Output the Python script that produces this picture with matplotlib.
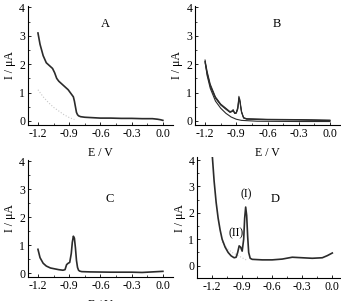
import matplotlib.pyplot as plt
from matplotlib.ticker import MultipleLocator

plt.rcParams['font.family'] = ['Liberation Serif', 'DejaVu Serif']
plt.rcParams['font.size'] = 8.5

# panel A
a_x = [-1.2, -1.18, -1.15, -1.12, -1.09, -1.06, -1.04, -1.02, -1.0, -0.97, -0.94, -0.91,
       -0.88, -0.86, -0.85, -0.84, -0.83, -0.82, -0.81, -0.79, -0.75, -0.7, -0.6, -0.5,
       -0.4, -0.3, -0.2, -0.1, -0.05, -0.02, 0.0]
a_y = [3.1, 2.7, 2.3, 2.05, 1.95, 1.85, 1.7, 1.5, 1.4, 1.3, 1.2, 1.1,
       0.95, 0.85, 0.7, 0.5, 0.3, 0.22, 0.18, 0.15, 0.13, 0.12, 0.1, 0.1,
       0.09, 0.09, 0.08, 0.08, 0.06, 0.04, 0.02]
a_bg_x = [-1.2, -1.15, -1.1, -1.05, -1.0, -0.95, -0.9, -0.85]
a_bg_y = [1.1, 0.85, 0.65, 0.48, 0.35, 0.22, 0.12, 0.05]

# panel B (several cycles)
b_up_x = [-1.2, -1.18, -1.15, -1.1, -1.05, -1.0, -0.96, -0.94, -0.93, -0.915, -0.9,
          -0.885, -0.875, -0.865, -0.85, -0.83, -0.8, -0.6, -0.3, 0.0]
b_up1 = [2.15, 1.75, 1.3, 0.85, 0.6, 0.45, 0.33, 0.36, 0.4, 0.28, 0.3,
         0.5, 0.87, 0.75, 0.35, 0.12, 0.08, 0.06, 0.05, 0.03]
b_up2 = [2.1, 1.7, 1.25, 0.82, 0.58, 0.43, 0.31, 0.34, 0.38, 0.27, 0.28,
         0.45, 0.82, 0.7, 0.32, 0.11, 0.07, 0.05, 0.04, 0.02]
b_up3 = [2.05, 1.65, 1.22, 0.8, 0.56, 0.41, 0.3, 0.33, 0.36, 0.26, 0.27,
         0.42, 0.78, 0.66, 0.3, 0.1, 0.06, 0.04, 0.03, 0.01]
b_dn_x = [-1.2, -1.18, -1.15, -1.1, -1.05, -1.0, -0.95, -0.9, -0.85, -0.7, -0.3, 0.0]
b_dn_y = [2.1, 1.6, 1.15, 0.7, 0.45, 0.27, 0.14, 0.06, 0.02, -0.01, -0.02, -0.02]

# panel C
c_x = [-1.2, -1.18, -1.15, -1.12, -1.08, -1.04, -1.0, -0.96, -0.94, -0.925, -0.91,
       -0.895, -0.88, -0.87, -0.86, -0.85, -0.84, -0.83, -0.82, -0.81, -0.8, -0.78,
       -0.7, -0.5, -0.3, -0.2, -0.1, 0.0]
c_y = [0.85, 0.55, 0.35, 0.25, 0.18, 0.15, 0.12, 0.1, 0.12, 0.3, 0.35,
       0.38, 0.7, 1.1, 1.32, 1.25, 0.9, 0.45, 0.2, 0.1, 0.07, 0.05,
       0.04, 0.03, 0.03, 0.02, 0.04, 0.06]

# panel D
d_x = [-1.2, -1.18, -1.16, -1.14, -1.12, -1.1, -1.07, -1.04, -1.01, -0.98, -0.96,
       -0.945, -0.93, -0.915, -0.9, -0.885, -0.875, -0.865, -0.855, -0.845, -0.835,
       -0.82, -0.8, -0.7, -0.6, -0.5, -0.4, -0.3, -0.2, -0.1, -0.05, 0.0]
d_y = [4.25, 3.2, 2.4, 1.8, 1.35, 1.0, 0.7, 0.5, 0.37, 0.3, 0.32,
       0.5, 0.75, 0.7, 0.55, 1.0, 1.8, 2.22, 1.9, 1.1, 0.5,
       0.28, 0.24, 0.22, 0.22, 0.25, 0.32, 0.3, 0.28, 0.3, 0.38, 0.48]
d_bg_x = [-1.1, -1.05, -1.0, -0.95, -0.9, -0.85]
d_bg_y = [0.9, 0.65, 0.5, 0.4, 0.3, 0.2]

xticks = [-1.2, -0.9, -0.6, -0.3, 0.0]
xticklabels = ['-1.2', '-0.9', '-0.6', '-0.3', '0.0']
yticks = [0, 1, 2, 3, 4]

line = '#2b2b2b'
fig = plt.figure(figsize=(3.41, 3.01), dpi=100)

def setup(ax, ylim, xlim, label, lx, ly):
    ax.set_xlim(*xlim)
    ax.set_ylim(*ylim)
    ax.spines['top'].set_visible(False)
    ax.spines['right'].set_visible(False)
    ax.set_xticks(xticks)
    ax.set_xticklabels(xticklabels)
    ax.set_yticks(yticks)
    ax.xaxis.set_minor_locator(MultipleLocator(0.15))
    ax.yaxis.set_minor_locator(MultipleLocator(0.5))
    ax.tick_params(direction='in', length=2.5, width=0.6, pad=2)
    ax.tick_params(which='minor', direction='in', length=1.5, width=0.5)
    ax.set_xlabel('E / V', labelpad=5)
    ax.set_ylabel('I / μA', labelpad=2)
    ax.text(lx, ly, label, fontsize=9)

axA = fig.add_axes([0.082, 0.585, 0.425, 0.395])
axA.plot(a_bg_x, a_bg_y, color='#c8c8c8', lw=0.8, ls=':')
axA.plot(a_x, a_y, color=line, lw=1.2)
setup(axA, (-0.14, 4.05), (-1.296, 0.096), 'A', -0.6, 3.3)

axB = fig.add_axes([0.572, 0.585, 0.425, 0.395])
for ys in (b_up1, b_up2, b_up3):
    axB.plot(b_up_x, ys, color=line, lw=0.7)
axB.plot(b_dn_x, b_dn_y, color=line, lw=0.8)
setup(axB, (-0.14, 4.05), (-1.296, 0.096), 'B', -0.55, 3.3)

axC = fig.add_axes([0.082, 0.08, 0.425, 0.39])
axC.plot(c_x, c_y, color=line, lw=1.2)
setup(axC, (-0.14, 4.07), (-1.296, 0.096), 'C', -0.55, 2.55)

axD = fig.add_axes([0.578, 0.077, 0.42, 0.4])
axD.plot(d_bg_x, d_bg_y, color='#c8c8c8', lw=0.8, ls=':')
axD.plot(d_x, d_y, color=line, lw=1.2)
setup(axD, (-0.46, 4.1), (-1.35, 0.08), 'D', -0.62, 2.4)
axD.text(-0.86, 2.6, '(I)', fontsize=8.5, ha='center')
axD.text(-0.96, 1.1, '(II)', fontsize=8.5, ha='center')

fig.savefig('out.png', dpi=100)
